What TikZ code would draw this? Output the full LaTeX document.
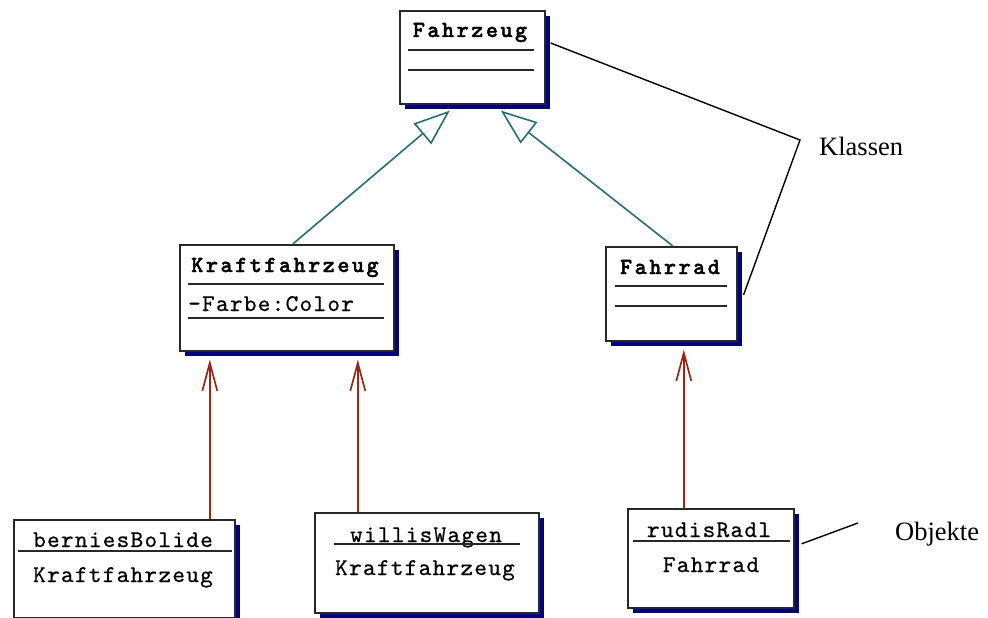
\documentclass[tikz,border=0pt]{standalone}
\usepackage{fontspec}
\setmainfont{Liberation Serif}
\newfontfamily\classfont{lmmonolt10-bold.otf}[LetterSpace=11,FakeBold=1.8]
\newfontfamily\objfont{lmmono10-regular.otf}[LetterSpace=5.5,FakeBold=0.6]
\usetikzlibrary{arrows.meta,shadows,calc}
\definecolor{shadowblue}{RGB}{0,0,128}
\definecolor{gencol}{RGB}{40,110,110}
\definecolor{inscol}{RGB}{150,40,20}
\definecolor{boxline}{RGB}{40,40,40}
\begin{document}
\begin{tikzpicture}[x=1pt,y=-1pt,
  umlbox/.style={draw=boxline, line width=1.6pt, fill=white, inner sep=0pt,
    anchor=north west,
    drop shadow={shadow xshift=5pt, shadow yshift=-5pt, fill=shadowblue, opacity=1}},
  sepline/.style={draw=boxline, line width=1.5pt},
  ctitle/.style={font=\classfont\fontsize{23}{23}\selectfont, anchor=base, inner sep=0pt},
  otext/.style={font=\objfont\fontsize{24}{24}\selectfont, anchor=base, inner sep=0pt},
  note/.style={font=\fontsize{26.5}{26.5}\selectfont, anchor=base west, inner sep=0pt},
  gen/.style={draw=gencol, line width=1.6pt, -{Triangle[open, length=36pt, width=27pt]}},
  inst/.style={draw=inscol, line width=1.7pt, -{Straight Barb[length=28pt, width=15pt]}},
  callout/.style={draw=black, line width=1.4pt}
]
\useasboundingbox (0,0) rectangle (988,618);

% classes
\node[umlbox, minimum width=145pt, minimum height=93pt] (fz) at (399,10) {};
\node[umlbox, minimum width=214pt, minimum height=106pt] (kfz) at (179,244) {};
\node[umlbox, minimum width=131pt, minimum height=94pt] (rad) at (605,246) {};

\node[ctitle] (fzname) at (470,37) {Fahrzeug};
\draw[sepline] (408,50) -- (534,50);
\draw[sepline] (408,70) -- (534,70);

\node[ctitle] (kfzname) at (285,272) {Kraftfahrzeug};
\draw[sepline] (188,284) -- (384,284);
\node[otext, anchor=base west] (kfzattr) at (188,311) {-Farbe:Color};
\draw[sepline] (188,318) -- (384,318);

\node[ctitle] (radname) at (670,274) {Fahrrad};
\draw[sepline] (615,286) -- (727,286);
\draw[sepline] (615,306) -- (727,306);

% objects
\node[umlbox, minimum width=221pt, minimum height=98pt] (bb) at (13,519) {};
\node[umlbox, minimum width=224pt, minimum height=100pt] (ww) at (314,512) {};
\node[umlbox, minimum width=166pt, minimum height=99pt] (rr) at (627,508) {};

\node[otext] (bbname) at (123,547) {berniesBolide};
\draw[sepline] (18,551) -- (232,551);
\node[otext] (bbclass) at (123,582) {Kraftfahrzeug};

\node[otext] (wwname) at (426,542) {willisWagen};
\draw[sepline] (334,544) -- (520,544);
\node[otext] (wwclass) at (425,575) {Kraftfahrzeug};

\node[otext] (rrname) at (709,537) {rudisRadl};
\draw[sepline] (633,541) -- (790,541);
\node[otext] (rrclass) at (711,572) {Fahrrad};

% generalization
\draw[gen] ($(kfz.north)+(6,0)$) -- ($(fz.south)+(-22.5,6)$);
\draw[gen] ($(rad.north)+(1.5,0)$) -- ($(fz.south)+(28.5,6)$);

% instance-of
\draw[inst] ($(bb.north)+(85.5,0)$) -- ($(kfz.south)+(-77,8)$);
\draw[inst] ($(ww.north)+(-69,0)$) -- ($(kfz.south)+(71,8)$);
\draw[inst] ($(rr.north)+(-27,0)$) -- ($(rad.south)+(12.5,8)$);

% annotations
\node[note] (klassen) at (819,155) {Klassen};
\node[note] (objekte) at (895,540) {Objekte};
\coordinate (kl) at (800,140);
\coordinate (ob) at (858,523);
\draw[callout] ($(fz.north east)+(5,33)$) -- (kl) -- ($(rad.east)+(6,1)$);
\draw[callout] ($(rr.east)+(7,-14.5)$) -- (ob);
\end{tikzpicture}
\end{document}
